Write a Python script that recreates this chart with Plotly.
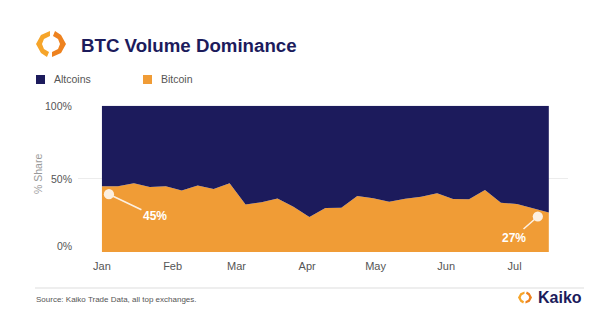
import plotly.graph_objects as go
import pandas as pd

# ---- data ----
dates = pd.date_range("2022-01-01", periods=29, freq="7D").strftime("%Y-%m-%d").tolist()
bitcoin = [45, 45, 47, 44.5, 45, 42, 45.5, 43, 47, 32.5, 34, 36.5, 31, 24,
           30, 30.3, 38.3, 36.7, 34.4, 36.4, 37.8, 40.1, 36.2, 36.0, 42.4,
           33.7, 32.8, 29.9, 27]
altcoins = [100 - v for v in bitcoin]
month_ticks = ["2022-01-01", "2022-02-01", "2022-03-01", "2022-04-01",
               "2022-05-01", "2022-06-01", "2022-07-01"]
month_labels = ["Jan", "Feb", "Mar", "Apr", "May", "Jun", "Jul"]
y_ticks = [0, 50, 100]
y_tick_labels = ["0%", "50%", "100%"]

W, H = 600, 329
NAVY = "#1c1b5c"
ORANGE = "#f09c36"
GRAY = "#666666"
FONT = "Liberation Sans, Arial, sans-serif"

def px(x):
    return x / W

def py(y):
    return (H - y) / H

fig = go.Figure()
fig.add_trace(go.Scatter(x=dates, y=bitcoin, name="Bitcoin", stackgroup="one",
                         mode="lines", line=dict(width=0, color=ORANGE),
                         fillcolor=ORANGE, showlegend=False, hoverinfo="skip"))
fig.add_trace(go.Scatter(x=dates, y=altcoins, name="Altcoins", stackgroup="one",
                         mode="lines", line=dict(width=0, color=NAVY),
                         fillcolor=NAVY, showlegend=False, hoverinfo="skip"))

fig.update_layout(
    width=W, height=H, margin=dict(l=0, r=0, t=0, b=0),
    paper_bgcolor="white", plot_bgcolor="white",
    font=dict(family=FONT, color=GRAY),
    xaxis=dict(domain=[px(78), px(568)],
               range=["2021-12-21 12:00", "2022-07-24 10:00"],
               tickvals=month_ticks, ticktext=month_labels,
               showgrid=False, zeroline=False, showline=False, ticks="",
               ticklabelstandoff=6,
               tickfont=dict(size=11, color="#555555", family=FONT)),
    yaxis=dict(domain=[py(252), py(105.7)], range=[0, 100],
               tickvals=y_ticks, showticklabels=False,
               showgrid=True, gridcolor="#ececec", gridwidth=1,
               zeroline=False, showline=False, ticks=""),
    showlegend=False,
)

annotations = []
# y tick labels
for v, lab in zip(y_ticks, y_tick_labels):
    annotations.append(dict(x=px(74), xref="paper", y=v, yref="y", text=lab,
                            showarrow=False, xanchor="right", yanchor="middle",
                            yshift=6 if v == 0 else 0,
                            font=dict(size=10.5, color="#555555", family=FONT)))
# axis title
annotations.append(dict(x=px(38), y=py(174), xref="paper", yref="paper",
                        text="% Share", textangle=-90, showarrow=False,
                        xanchor="center", yanchor="middle",
                        font=dict(size=10.5, color="#999999", family=FONT)))
# title
annotations.append(dict(x=px(79), y=py(45), xref="paper", yref="paper",
                        text="<b>BTC Volume Dominance</b>", showarrow=False,
                        xanchor="left", yanchor="middle",
                        font=dict(size=18.7, color=NAVY, family=FONT)))
# legend texts
annotations.append(dict(x=px(52), y=py(79), xref="paper", yref="paper",
                        text="Altcoins", showarrow=False, xanchor="left",
                        yanchor="middle", font=dict(size=10.5, color="#555555", family=FONT)))
annotations.append(dict(x=px(159), y=py(79), xref="paper", yref="paper",
                        text="Bitcoin", showarrow=False, xanchor="left",
                        yanchor="middle", font=dict(size=10.5, color="#555555", family=FONT)))
# callouts
annotations.append(dict(x=dates[0], y=bitcoin[0], xref="x", yref="y",
                        xshift=7, yshift=-8, ax=46, ay=22,
                        text="<b>%d%%</b>" % bitcoin[0], showarrow=True,
                        arrowhead=6, arrowsize=1.6, arrowwidth=1.6,
                        arrowcolor="rgba(255,255,255,0.85)", standoff=0,
                        font=dict(size=12, color="white", family=FONT)))
annotations.append(dict(x=dates[-1], y=bitcoin[-1], xref="x", yref="y",
                        xshift=-11, yshift=-4, ax=-24, ay=21,
                        text="<b>%d%%</b>" % bitcoin[-1], showarrow=True,
                        arrowhead=6, arrowsize=1.6, arrowwidth=1.6,
                        arrowcolor="rgba(255,255,255,0.85)", standoff=0,
                        font=dict(size=12, color="white", family=FONT)))
# footer
annotations.append(dict(x=px(34), y=py(299), xref="paper", yref="paper",
                        text="Source: Kaiko Trade Data, all top exchanges.",
                        showarrow=False, xanchor="left", yanchor="middle",
                        font=dict(size=8, color="#555555", family=FONT)))
annotations.append(dict(x=px(536), y=py(297.5), xref="paper", yref="paper",
                        text="<b>Kaiko</b>", showarrow=False, xanchor="left",
                        yanchor="middle", font=dict(size=16, color=NAVY, family=FONT)))
fig.update_layout(annotations=annotations)

shapes = []

def logo(cx, cy, s):
    left = [(-1, -13), (-10, -9), (-15, 0), (-10, 9), (-4, 13),
            (-2, 8), (-7, 5), (-9, 0), (-7, -5), (-1, -8)]
    right = [(-x, -y) for (x, y) in left]
    out = []
    for pts, col in ((left, "#f6a52a"), (right, "#ee821f")):
        path = "M " + " L ".join("%.4f,%.4f" % (px(cx + s * x), py(cy + s * y))
                                 for x, y in pts) + " Z"
        out.append(dict(type="path", path=path, xref="paper", yref="paper",
                        fillcolor=col, line=dict(width=0)))
    return out

shapes += logo(51, 44, 1.0)
shapes += logo(525, 297.5, 0.47)
# legend squares
shapes.append(dict(type="rect", xref="paper", yref="paper",
                   x0=px(36), x1=px(45), y0=py(84), y1=py(75),
                   fillcolor=NAVY, line=dict(width=0)))
shapes.append(dict(type="rect", xref="paper", yref="paper",
                   x0=px(143), x1=px(152), y0=py(84), y1=py(75),
                   fillcolor=ORANGE, line=dict(width=0)))
# footer rule
shapes.append(dict(type="line", xref="paper", yref="paper",
                   x0=px(35), x1=px(584), y0=py(288), y1=py(288),
                   line=dict(color="#dddddd", width=1)))
fig.update_layout(shapes=shapes)

fig.write_html("out.html")
